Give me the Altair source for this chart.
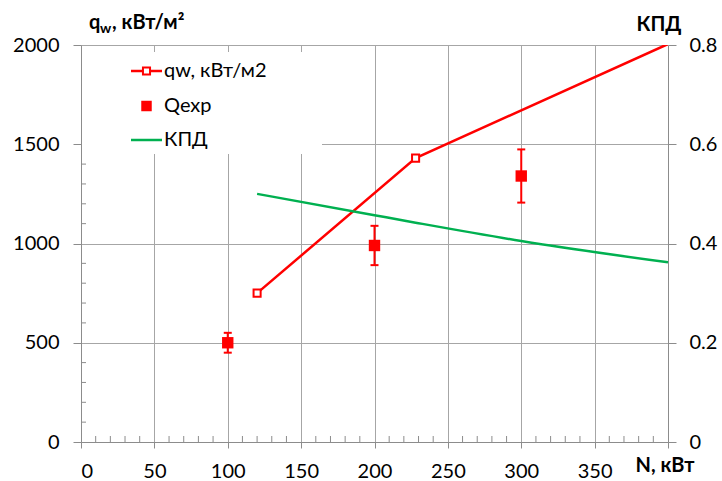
import altair as alt
import pandas as pd

# Calculated wall heat flux, kW/m2, versus power N, kW
power_kw = [120, 228, 400]
qw_kw_m2 = [750, 1430, 2005]

# Measured heat flux with 10 % error bars
exp_power = [100, 200, 300]
q_exp = [500, 990, 1340]
q_exp_err = [50, 99, 134]

# Efficiency (КПД), right axis
eff_power = [120, 200, 228, 300, 400]
efficiency = [0.50, 0.457, 0.442, 0.405, 0.362]

x_major = [0, 50, 100, 150, 200, 250, 300, 350, 400]
x_minor = [v for v in range(10, 400, 10) if v % 50]
y_left_major = [0, 500, 1000, 1500, 2000]
y_left_minor = [v for v in range(100, 2000, 100) if v % 500]
y_right_major = [0, 0.2, 0.4, 0.6, 0.8]

legend_labels = ["qw, кВт/м2", "Qexp", "КПД"]

FONT = "Lato"
RED = "#ff0000"
GREEN = "#00b050"
GRID = "#a6a6a6"
AXIS = "#8c8c8c"

qw_df = pd.DataFrame({"N": power_kw, "q": qw_kw_m2})
exp_df = pd.DataFrame({"N": exp_power, "q": q_exp, "err": q_exp_err})
eff_df = pd.DataFrame({"N": eff_power, "eff": efficiency})
one = pd.DataFrame({"k": [0]})

x_scale = alt.Scale(domain=[0, 400], nice=False, zero=True)
yl_scale = alt.Scale(domain=[0, 2000], nice=False)
yr_scale = alt.Scale(domain=[0, 0.8], nice=False)

x_axis = alt.Axis(
    values=x_major, grid=True, gridColor=GRID, gridWidth=1,
    domainColor=AXIS, tickColor=AXIS, tickSize=6,
    labelFont=FONT, labelFontSize=20, labelColor="#000000", labelPadding=13,
    labelExpr="datum.value == 400 ? '' : datum.label", title=None,
)
yl_axis = alt.Axis(
    orient="left", values=y_left_major, grid=True, gridColor=GRID, gridWidth=1,
    format="d", domainColor=AXIS, tickColor=AXIS, tickSize=8,
    labelFont=FONT, labelFontSize=20, labelColor="#000000", labelPadding=14,
    title=None,
)
yr_axis = alt.Axis(
    orient="right", values=y_right_major, grid=False, format=".1~f",
    domainColor=AXIS, tickColor=AXIS, tickSize=8,
    labelFont=FONT, labelFontSize=20, labelColor="#000000", labelPadding=13,
    title=None,
)

# Every layer on the shared x scale carries the same axis definition
X = alt.X("N:Q", scale=x_scale, axis=x_axis)
YL = alt.Y("q:Q", scale=yl_scale, axis=yl_axis)
YLn = alt.Y("q:Q", scale=yl_scale, axis=None)

# Heat-flux curve carries the left axis
qw_line = alt.Chart(qw_df).mark_line(color=RED, strokeWidth=2.5, clip=True).encode(
    x=X, y=YL
)

# Efficiency curve carries the right axis
eff_line = alt.Chart(eff_df).mark_line(
    color=GREEN, strokeWidth=2.5, interpolate="monotone"
).encode(x=X, y=alt.Y("eff:Q", scale=yr_scale, axis=yr_axis))

# Minor ticks along the bottom and left axes, pointing into the plot
minor_x = alt.Chart(pd.DataFrame({"N": x_minor})).mark_rule(
    color=AXIS, strokeWidth=1
).encode(x=X, y=alt.value(397), y2=alt.value(391))

minor_y = alt.Chart(pd.DataFrame({"q": y_left_minor})).mark_rule(
    color=AXIS, strokeWidth=1
).encode(y=YLn, x=alt.value(0), x2=alt.value(5))

# White legend panel over the gridlines
legend_box = alt.Chart(one).mark_rect(color="white").encode(
    x=alt.value(1), x2=alt.value(241), y=alt.value(7), y2=alt.value(109)
)

qw_points = alt.Chart(qw_df).transform_filter("datum.N < 400").mark_square(
    size=50, filled=True, fill="white", stroke=RED, strokeWidth=2, opacity=1
).encode(x=X, y=YLn)

exp_bars = alt.Chart(exp_df).transform_calculate(
    lo="datum.q - datum.err", hi="datum.q + datum.err"
)
err_rule = exp_bars.mark_rule(color=RED, strokeWidth=2).encode(
    x=X, y=alt.Y("lo:Q", scale=yl_scale, axis=None), y2="hi:Q"
)
cap_hi = exp_bars.mark_rule(color=RED, strokeWidth=2, xOffset=-4, x2Offset=4).encode(
    x=X, x2="N:Q", y=alt.Y("hi:Q", scale=yl_scale, axis=None)
)
cap_lo = exp_bars.mark_rule(color=RED, strokeWidth=2, xOffset=-4, x2Offset=4).encode(
    x=X, x2="N:Q", y=alt.Y("lo:Q", scale=yl_scale, axis=None)
)
exp_points = alt.Chart(exp_df).mark_square(size=130, color=RED, opacity=1).encode(
    x=X, y=YLn
)

# Legend entries
leg_qw_line = alt.Chart(one).mark_rule(color=RED, strokeWidth=2.5).encode(
    x=alt.value(50), x2=alt.value(81), y=alt.value(26)
)
leg_qw_pt = alt.Chart(one).mark_square(
    size=50, filled=True, fill="white", stroke=RED, strokeWidth=2, opacity=1
).encode(x=alt.value(65.5), y=alt.value(26))
leg_exp_pt = alt.Chart(one).mark_square(size=110, color=RED, opacity=1).encode(
    x=alt.value(65.5), y=alt.value(61)
)
leg_eff_line = alt.Chart(one).mark_rule(color=GREEN, strokeWidth=2.5).encode(
    x=alt.value(50), x2=alt.value(81), y=alt.value(95)
)
leg_texts = [
    alt.Chart(one).mark_text(
        text=label, font=FONT, fontSize=20, align="left", baseline="middle", color="#000000"
    ).encode(x=alt.value(83), y=alt.value(row))
    for label, row in zip(legend_labels, [26, 61, 95])
]

# Axis titles
title_style = dict(font=FONT, fontWeight="bold", color="#000000", baseline="alphabetic")
t_q = alt.Chart(one).mark_text(text="q", fontSize=20, align="left", **title_style).encode(
    x=alt.value(8), y=alt.value(-16)
)
t_w = alt.Chart(one).mark_text(text="w", fontSize=14, align="left", **title_style).encode(
    x=alt.value(19), y=alt.value(-12)
)
t_units = alt.Chart(one).mark_text(text=", кВт/м²", fontSize=20, align="left", **title_style).encode(
    x=alt.value(31), y=alt.value(-16)
)
t_eff = alt.Chart(one).mark_text(text="КПД", fontSize=20, align="center", **title_style).encode(
    x=alt.value(578), y=alt.value(-14)
)
t_n = alt.Chart(one).mark_text(text="N, кВт", fontSize=20, align="center", **title_style).encode(
    x=alt.value(584), y=alt.value(427)
)

chart = alt.layer(
    qw_line, eff_line, minor_x, minor_y, legend_box, qw_points,
    err_rule, cap_hi, cap_lo, exp_points,
    leg_qw_line, leg_qw_pt, leg_exp_pt, leg_eff_line, *leg_texts,
    t_q, t_w, t_units, t_eff, t_n,
).resolve_scale(y="independent").properties(
    width=587,
    height=397,
    autosize=alt.AutoSizeParams(type="none"),
    padding={"left": 81, "top": 45, "right": 54, "bottom": 39},
    background="white",
).configure_view(stroke=None)

chart.save("out.html", embed_options={"renderer": "svg", "actions": False})
